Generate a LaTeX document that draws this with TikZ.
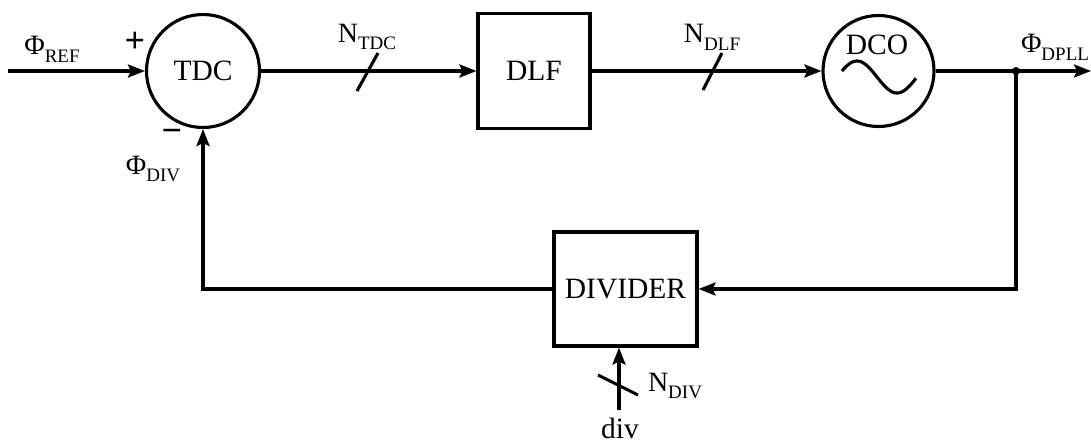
\documentclass[tikz,border=0pt]{standalone}
\usepackage{fontspec}
\setmainfont{Liberation Serif}
\usetikzlibrary{arrows.meta}
\newcommand\lsub[1]{\raisebox{-0.28em}{\fontsize{19}{19}\selectfont #1}}
\begin{document}
\begin{tikzpicture}[x=1pt,y=-1pt,
  wire/.style={line width=3.1pt},
  arr/.style={wire,-{Stealth[length=17pt,width=13pt,inset=3pt]}},
  blockcircle/.style={circle,draw,line width=3.1pt,minimum size=113pt,inner sep=0pt},
  blockbox/.style={rectangle,draw,line width=3.1pt,inner sep=0pt},
  lbl/.style={font=\fontsize{29.5}{31}\selectfont,inner sep=0pt},
  sign/.style={font=\fontsize{36}{36}\selectfont\bfseries,inner sep=0pt},
  sublbl/.style={font=\fontsize{28}{30}\selectfont,inner sep=0pt}]
\useasboundingbox (0,0) rectangle (1091,444);
% blocks
\node[blockcircle,lbl] (tdc) at (203,71) {TDC};
\node[blockbox,lbl,minimum width=112pt,minimum height=115pt] (dlf) at (534,71) {DLF};
\node[blockcircle,minimum size=111pt] (dco) at (878.5,71) {};
\node[lbl] (dcot) at (877,45) {DCO};
\draw[wire,domain=22:355,samples=60,smooth] plot ({857+(\x-90)*40/180},{77-16*sin(\x)});
\node[blockbox,lbl,minimum width=143pt,minimum height=114pt] (div) at (625.5,289) {DIVIDER};
% coordinates
\coordinate (in) at (8,71);
\coordinate (out) at (1091,71);
\coordinate (j) at (1016,71);
\coordinate (divin) at (619,410);
% connectors
\draw[arr] (in) -- (tdc.west);
\draw[arr] (tdc.east) -- (dlf.west);
\draw[arr] (dlf.east) -- (dco.west);
\draw[arr] (dco.east) -- (out);
\fill (j) circle (4);
\draw[arr] (j) |- (div.east);
\draw[arr] (div.west) -| (tdc.south);
\draw[arr] (divin) -- (divin |- div.south);
% bus slashes
\draw[wire] (357,91) -- (378,53);
\draw[wire] (703,90) -- (722,53);
\draw[wire] (598,375) -- (638,395);
% labels
\node[sublbl] (lref) at (52,49) {Φ\lsub{REF}};
\node[sign] (plus) at (135,42) {+};
\node[sign] (minus) at (172,136) {−};
\node[sublbl] (ldiv) at (153,169) {Φ\lsub{DIV}};
\node[sublbl] (ntdc) at (367,37) {N\lsub{TDC}};
\node[sublbl] (ndlf) at (712,37) {N\lsub{DLF}};
\node[sublbl] (ldpll) at (1055,47) {Φ\lsub{DPLL}};
\node[sublbl] (ndiv) at (675,386) {N\lsub{DIV}};
\node[lbl] (ldivin) at (620,428) {div};
\end{tikzpicture}
\end{document}
